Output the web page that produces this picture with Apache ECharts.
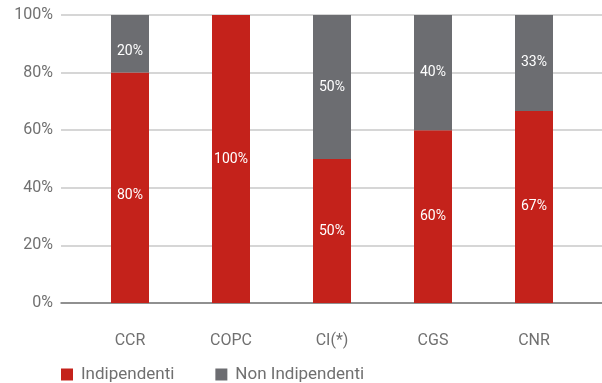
<!DOCTYPE html>
<html><head><meta charset="utf-8">
<script src="https://cdn.jsdelivr.net/npm/echarts@6/dist/echarts.min.js"></script>
<style>html,body{margin:0;padding:0;background:#fff}#c{width:602px;height:383px}</style>
</head><body><div id="c"></div>
<script>
const categories = ['CCR', 'COPC', 'CI(*)', 'CGS', 'CNR'];
const indipendenti = [80, 100, 50, 60, 66.67];
const nonIndipendenti = [20, 0, 50, 40, 33.33];
const yTicks = [0, 20, 40, 60, 80, 100];

// label vertical nudges per category (styling only)
const labelNudge = [8, 0, 0, 0, 0];

const FONT = 'Roboto, sans-serif';
const chart = echarts.init(document.getElementById('c'));
const mkData = arr => arr.map((v, i) => ({value: v, label: {offset: [0, labelNudge[i]]}}));
const lbl = {
  show: true, position: 'inside', color: '#fff', fontSize: 14, fontFamily: FONT,
  formatter: p => p.value > 0 ? Math.round(p.value) + '%' : ''
};
chart.setOption({
  animation: false,
  grid: [
    {left: 61, right: 0, top: 15, bottom: 80},
    {left: 79.5, right: 17.5, top: 15, bottom: 80}
  ],
  xAxis: [
    {gridIndex: 0, type: 'value', min: 0, max: 1, show: true,
     axisLine: {show: true, onZero: false, lineStyle: {color: '#7a7a7a', width: 1.5}},
     axisTick: {show: false}, axisLabel: {show: false}, splitLine: {show: false}},
    {gridIndex: 1, type: 'category', data: categories,
     axisLine: {show: false}, axisTick: {show: false},
     axisLabel: {color: '#707070', fontSize: 16, fontFamily: FONT, margin: 30}}
  ],
  yAxis: [
    {gridIndex: 0, type: 'value', min: 0, max: 100, interval: 20,
     axisLine: {show: false}, axisTick: {show: false},
     axisLabel: {color: '#707070', fontSize: 16, fontFamily: FONT, margin: 8,
       formatter: v => yTicks.includes(v) ? v + '%' : ''},
     splitLine: {lineStyle: {color: '#c8c8c8', width: 1.5}}},
    {gridIndex: 1, type: 'value', min: 0, max: 100, show: false}
  ],
  legend: {
    left: 56, top: 361, itemWidth: 12, itemHeight: 12, itemGap: 41, icon: 'rect',
    textStyle: {color: '#707070', fontSize: 17, fontFamily: FONT, padding: [0, 0, 0, 3]},
    data: ['Indipendenti', 'Non Indipendenti']
  },
  series: [
    {name: 'Indipendenti', type: 'bar', stack: 's', xAxisIndex: 1, yAxisIndex: 1,
     barWidth: 38, data: mkData(indipendenti), itemStyle: {color: '#c4221b'}, label: lbl},
    {name: 'Non Indipendenti', type: 'bar', stack: 's', xAxisIndex: 1, yAxisIndex: 1,
     barWidth: 38, data: mkData(nonIndipendenti), itemStyle: {color: '#6c6d71'}, label: lbl}
  ]
});
</script></body></html>
